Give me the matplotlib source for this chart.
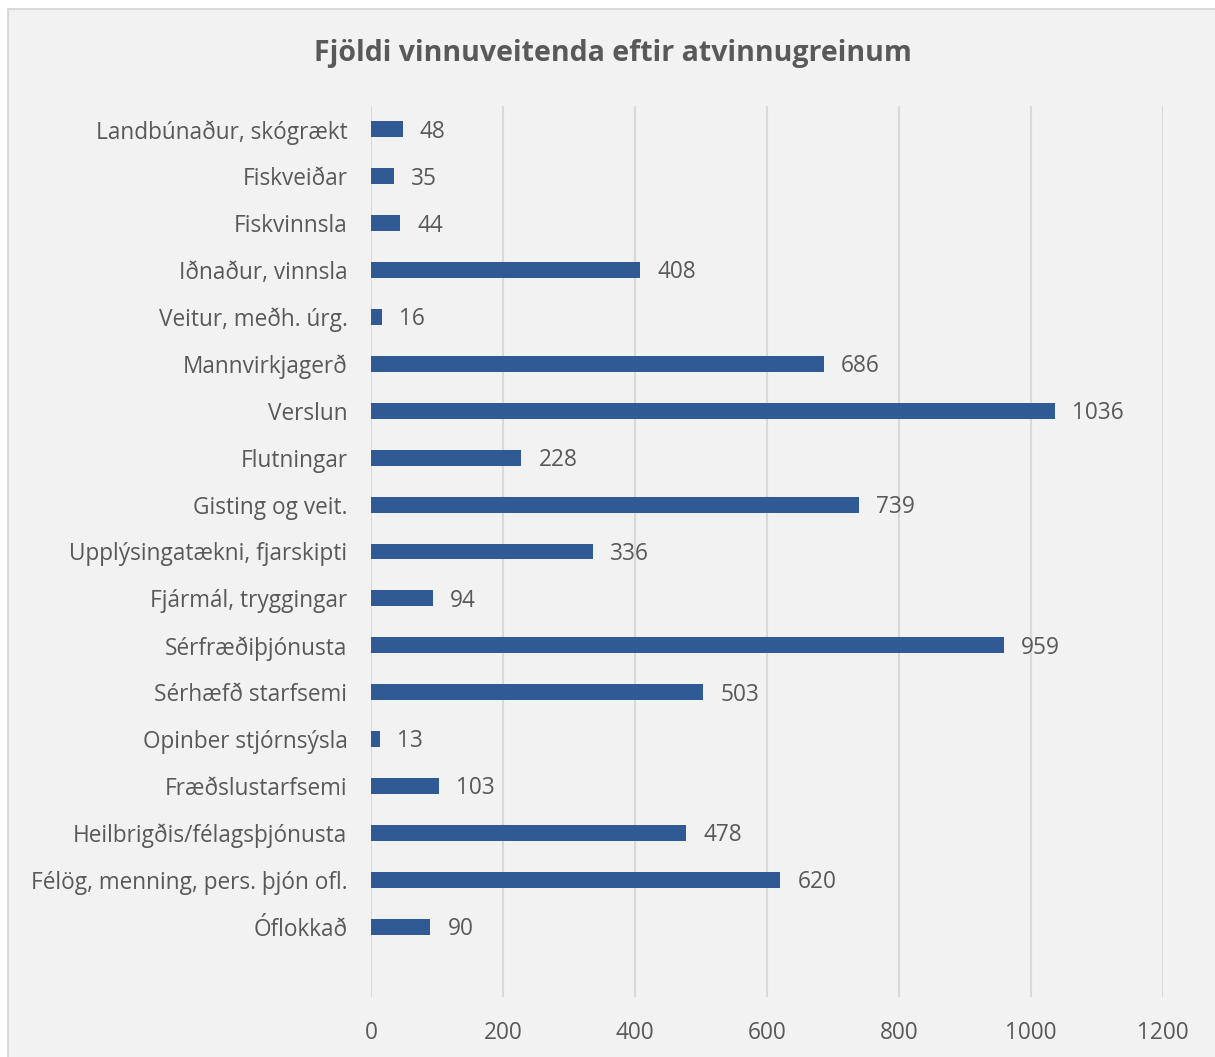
import matplotlib.pyplot as plt
from matplotlib.patches import Rectangle

# ---- data ----
categories = [
    "Landbúnaður, skógrækt",
    "Fiskveiðar",
    "Fiskvinnsla",
    "Iðnaður, vinnsla",
    "Veitur, meðh. úrg.",
    "Mannvirkjagerð",
    "Verslun",
    "Flutningar",
    "Gisting og veit.",
    "Upplýsingatækni, fjarskipti",
    "Fjármál, tryggingar",
    "Sérfræðiþjónusta",
    "Sérhæfð starfsemi",
    "Opinber stjórnsýsla",
    "Fræðslustarfsemi",
    "Heilbrigðis/félagsþjónusta",
    "Félög, menning, pers. þjón ofl.",
    "Óflokkað",
]
values = [48, 35, 44, 408, 16, 686, 1036, 228, 739, 336, 94, 959, 503, 13, 103, 478, 620, 90]
x_ticks = [0, 200, 400, 600, 800, 1000, 1200]

title = "Fjöldi vinnuveitenda eftir atvinnugreinum"

# ---- style ----
bar_color = "#2F5A94"
text_color = "#595959"
bg_color = "#F2F2F2"
grid_color = "#D9D9D9"
fs = 16.3
plt.rcParams["font.family"] = ["Open Sans", "DejaVu Sans"]

fig = plt.figure(figsize=(12.15, 10.57), dpi=100, facecolor="white")

# chart area frame
fig.patches.append(Rectangle((8 / 1215, -0.01), 1.02, 1 - 9 / 1057 + 0.01,
                             transform=fig.transFigure, facecolor=bg_color,
                             edgecolor=grid_color, linewidth=1.5, zorder=-5))

ax = fig.add_axes([371 / 1215, 1 - 997 / 1057, (1163 - 371) / 1215, (997 - 106) / 1057])
ax.set_facecolor("none")
ax.set_zorder(1)

# categories top to bottom, with one empty slot at the bottom
n = len(categories)
ypos = [n - i for i in range(n)]
ax.barh(ypos, values, height=0.34, color=bar_color, zorder=3)

for y, v in zip(ypos, values):
    ax.text(v + 26, y - 0.05, str(v), va="center", ha="left", fontsize=fs, color=text_color)

ax.set_yticks(ypos)
ax.set_yticklabels(categories, fontsize=fs, color=text_color)
ax.set_ylim(-0.5, n + 0.5)
ax.set_xlim(0, 1200)
ax.set_xticks(x_ticks)
ax.set_xticklabels([str(t) for t in x_ticks], fontsize=fs, color=text_color)
ax.tick_params(axis="x", length=0, pad=17)
ax.tick_params(axis="y", length=0, pad=17)
ax.xaxis.grid(True, color=grid_color, linewidth=1.5, zorder=0)
ax.set_axisbelow(True)
for s in ax.spines.values():
    s.set_visible(False)

fig.text(613 / 1215, 1 - 54 / 1057, title, ha="center", va="center",
         fontsize=20.5, fontweight="bold", color=text_color)

fig.savefig("out.png", dpi=100, facecolor="white")
